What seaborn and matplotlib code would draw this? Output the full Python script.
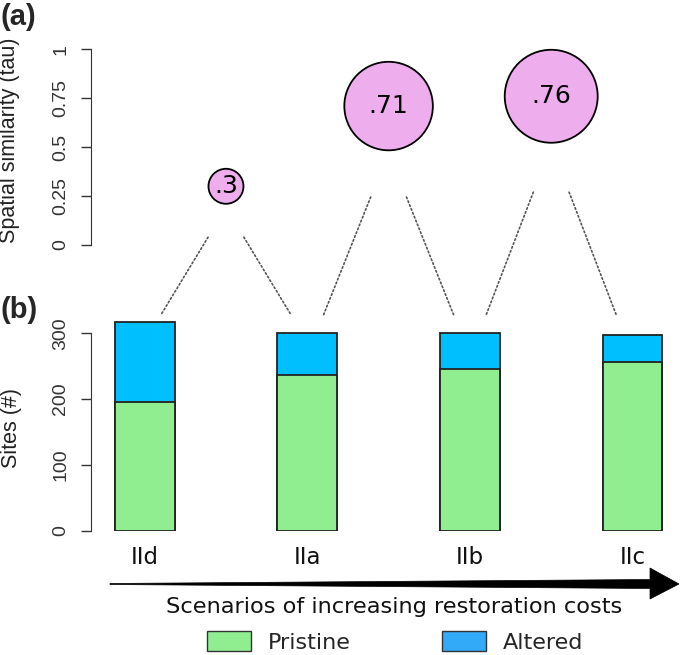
import matplotlib
matplotlib.use("Agg")
import matplotlib.pyplot as plt
from matplotlib.patches import ConnectionPatch, Polygon, Patch
import seaborn as sns
import pandas as pd

# Data
scenarios = ["IId", "IIa", "IIb", "IIc"]
pristine = [195, 237, 246, 257]
altered = [122, 64, 54, 41]
tau = [0.3, 0.71, 0.76]
tau_labels = [".3", ".71", ".76"]

green = "#90EE90"
blue = "#00BFFF"
pink = "#EEAEEE"

sns.set_style("ticks")
plt.rcParams["font.family"] = ["Liberation Sans", "DejaVu Sans"]

W, H = 685, 655
fig = plt.figure(figsize=(W / 100, H / 100), dpi=100)


def fbox(left, top, right, bottom):
    return [left / W, 1 - bottom / H, (right - left) / W, (bottom - top) / H]


xlim = (-0.33, 3.292)

# ---- (a) spatial similarity ----
ax_top = fig.add_axes(fbox(91, 40, 680, 245))
ax_top.set_xlim(*xlim)
ax_top.set_ylim(0, 205 / 195.7)
mid = [i + 0.5 for i in range(len(tau))]
df_tau = pd.DataFrame({"x": mid, "tau": tau})
sns.scatterplot(data=df_tau, x="x", y="tau", size="tau", sizes=(635, 4480),
                color=pink, edgecolor="black", linewidth=1.3, legend=False,
                ax=ax_top, clip_on=False, zorder=3)
for x, t, lab in zip(mid, tau, tau_labels):
    ax_top.text(x, t, lab, ha="center", va="center", fontsize=18,
                family="DejaVu Sans", color="black", zorder=4)
ax_top.set_yticks([0, 0.25, 0.5, 0.75, 1])
ax_top.set_yticklabels(["0", "0.25", "0.5", "0.75", "1"], rotation=90,
                       va="center")
ax_top.set_xticks([])
ax_top.set_xlabel("")
ax_top.set_ylabel("")
for s in ["top", "right", "bottom"]:
    ax_top.spines[s].set_visible(False)
ax_top.spines["left"].set_bounds(0, 1)
ax_top.spines["left"].set_color("#333333")
ax_top.tick_params(axis="y", length=7.5, width=1, pad=8, labelsize=14,
                   color="#333333", labelcolor="#333333")
ax_top.patch.set_alpha(0)

# ---- (b) number of sites ----
ax_bot = fig.add_axes(fbox(91, 300, 680, 530.7))
totals = [p + a for p, a in zip(pristine, altered)]
sns.barplot(x=scenarios, y=totals, color=blue, saturation=1, width=0.368,
            edgecolor="#222222", linewidth=1.3, ax=ax_bot)
sns.barplot(x=scenarios, y=pristine, color=green, saturation=1, width=0.368,
            edgecolor="#222222", linewidth=1.3, ax=ax_bot)
ax_bot.set_xlim(*xlim)
ax_bot.set_ylim(0, 230.7 / 0.658)
ax_bot.set_yticks([0, 100, 200, 300])
ax_bot.set_yticklabels(["0", "100", "200", "300"], rotation=90, va="center")
ax_bot.set_xticks(range(len(scenarios)))
ax_bot.set_xticklabels(scenarios, family="DejaVu Sans", fontsize=16.5,
                       color="#111111")
ax_bot.tick_params(axis="x", length=0, pad=11)
ax_bot.tick_params(axis="y", length=7.5, width=1, pad=8, labelsize=14,
                   color="#333333", labelcolor="#333333")
ax_bot.set_xlabel("")
ax_bot.set_ylabel("")
for s in ["top", "right", "bottom"]:
    ax_bot.spines[s].set_visible(False)
ax_bot.spines["left"].set_bounds(0, 300)
ax_bot.spines["left"].set_color("#333333")
ax_bot.patch.set_alpha(0)

# dotted links from each similarity bubble to the pair of scenarios it compares
for i, t in enumerate(tau):
    top_y = 0.5 * t - 0.11
    for dx_top, bar in [(-0.11, i), (0.11, i + 1)]:
        dx_bot = 0.1 if bar == i else -0.1
        con = ConnectionPatch(xyA=(mid[i] + dx_top, top_y), coordsA=ax_top.transData,
                              xyB=(bar + dx_bot, 328), coordsB=ax_bot.transData,
                              linestyle=(0, (1, 1.5)), color="#555555", lw=1.2)
        fig.add_artist(con)

# axis titles and panel letters
fig.text(10 / W, 1 - 140 / H, "Spatial similarity (tau)", rotation=90,
         ha="center", va="center", fontsize=15.5, color="#222222")
fig.text(11 / W, 1 - 428 / H, "Sites (#)", rotation=90,
         ha="center", va="center", fontsize=15.5, color="#222222")
fig.text(0 / W, 1 - 17 / H, "(a)", fontsize=21, fontweight="bold",
         ha="left", va="center")
fig.text(0 / W, 1 - 310 / H, "(b)", fontsize=21, fontweight="bold",
         ha="left", va="center")

# cost arrow
ay = 584
arrow = Polygon([(110 / W, 1 - (ay - 0.5) / H), (650 / W, 1 - (ay - 4.5) / H),
                 (650 / W, 1 - 568 / H), (679 / W, 1 - ay / H),
                 (650 / W, 1 - 599 / H), (650 / W, 1 - (ay + 4.5) / H),
                 (110 / W, 1 - (ay + 0.5) / H)],
                closed=True, facecolor="black", edgecolor="black", lw=0.5,
                transform=fig.transFigure)
fig.add_artist(arrow)
fig.text(394 / W, 1 - 607 / H, "Scenarios of increasing restoration costs",
         ha="center", va="center", fontsize=16.2, family="DejaVu Sans",
         color="#111111")

handles = [Patch(facecolor=green, edgecolor="#333333", lw=1),
           Patch(facecolor="#33AAF8", edgecolor="#333333", lw=1)]
fig.legend(handles, ["Pristine", "Altered"], loc="center",
           bbox_to_anchor=(395 / W, 1 - 642 / H), ncol=2, frameon=False,
           handlelength=2.0, handleheight=0.95, columnspacing=4.1,
           handletextpad=0.75, borderpad=0, borderaxespad=0,
           prop={"family": "DejaVu Sans", "size": 16})

fig.savefig("out.png", dpi=100)
